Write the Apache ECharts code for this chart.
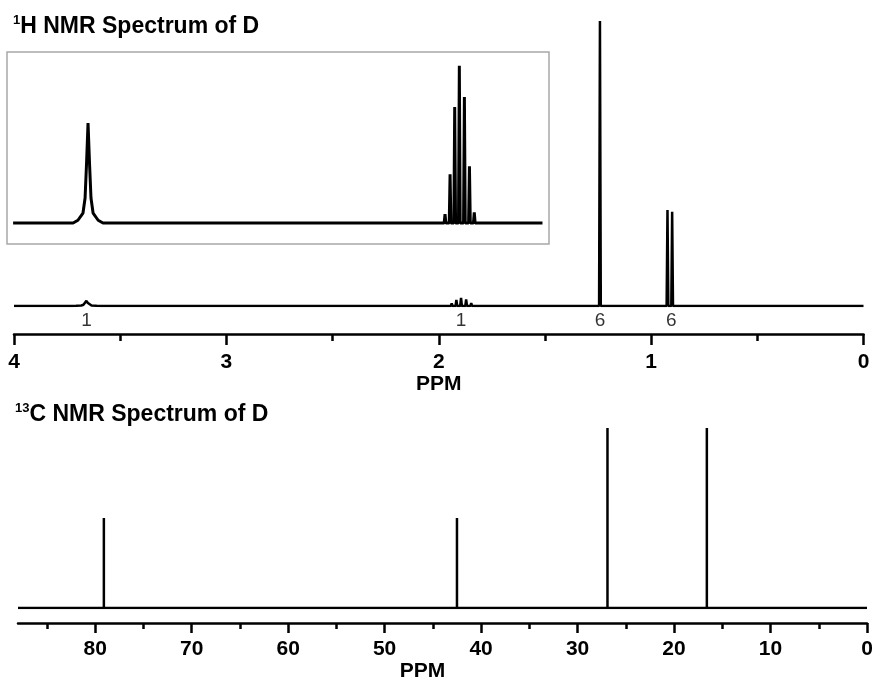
<!DOCTYPE html>
<html>
<head>
<meta charset="utf-8">
<title>NMR Spectra of D</title>
<script src="https://cdn.jsdelivr.net/npm/echarts@6/dist/echarts.min.js"></script>
<style>
  html, body { margin: 0; padding: 0; background: #fff; }
  #chart { width: 874px; height: 679px; }
</style>
</head>
<body>
<div id="chart"></div>
<script>
// ---- 1H spectrum, heights relative to the tallest line (= 100) ----
const hSpan = [4, 0];                 // ppm range of the main trace
const hInsetSpan = [4.015, 1.50];     // ppm range shown in the inset
const hLinePpm = [1.241, 0.923, 0.901];
const hLineHeights = [100, 33.7, 33.1];
const hMultPpm = [1.963, 1.939, 1.917, 1.895, 1.871, 1.847, 1.824];
const hMultHeights = [0.16, 0.88, 2.09, 2.83, 2.27, 1.02, 0.19];
// broad singlet near 3.66 ppm, profile
const hSingletPpm = [3.730, 3.707, 3.683, 3.673, 3.666, 3.659, 3.652, 3.645, 3.635, 3.611, 3.588];
const hSingletHeights = [0, 0.05, 0.18, 0.45, 1.08, 1.8, 1.08, 0.45, 0.18, 0.05, 0];
// integrals written under the peaks
const hIntegralPpm = [3.659, 1.895, 1.241, 0.905];
const hIntegrals = ['1', '1', '6', '6'];
const hMajorTicks = [0, 1, 2, 3, 4];
const hMinorTicks = [0.5, 1.5, 2.5, 3.5];

// ---- 13C spectrum ----
const cSpan = [88, 0];
const cPeakPpm = [79.1, 42.5, 26.9, 16.6];
const cPeakHeights = [50, 50, 100, 100];
const cMajorTicks = [0, 10, 20, 30, 40, 50, 60, 70, 80];
const cMinorTicks = [5, 15, 25, 35, 45, 55, 65, 75, 85];

const FONT = 'Liberation Sans, Arial, sans-serif';
const HW = 0.004; // half width of a sharp line, ppm

function hTrace(from, to) {
  let pts = [[from, 0], [to, 0]];
  hSingletPpm.forEach((p, i) => pts.push([p, hSingletHeights[i]]));
  hMultPpm.forEach((p, i) => pts.push([p + HW, 0], [p, hMultHeights[i]], [p - HW, 0]));
  hLinePpm.forEach((p, i) => pts.push([p + HW, 0], [p, hLineHeights[i]], [p - HW, 0]));
  pts = pts.filter(d => d[0] <= from && d[0] >= to);
  pts.sort((a, b) => b[0] - a[0]);
  return pts;
}

function cTrace() {
  const pts = [[cSpan[0], 0]];
  cPeakPpm.forEach((p, i) => pts.push([p, 0], [p, cPeakHeights[i]], [p, 0]));
  pts.push([cSpan[1], 0]);
  return pts;
}

function tickAxis(grid, min, max, ticks, len, offset, withLine, extra) {
  return Object.assign({
    type: 'value', gridIndex: grid, min: min, max: max, inverse: true,
    position: 'bottom', offset: offset,
    splitLine: { show: false },
    axisLine: { show: withLine, lineStyle: { color: '#000', width: 2.5 } },
    axisTick: { show: true, customValues: ticks, length: len, lineStyle: { color: '#000', width: 2.5 } },
    axisLabel: { show: false }
  }, extra || {});
}

const labelStyle = {
  fontFamily: FONT, fontWeight: 'bold', fontSize: 21, color: '#000'
};

function titleStyle() {
  return {
    fontFamily: FONT, fontWeight: 'bold', fontSize: 23, color: '#000', lineHeight: 26,
    rich: { s: { fontFamily: FONT, fontWeight: 'bold', fontSize: 13, verticalAlign: 'top', lineHeight: 16 } }
  };
}

const chart = echarts.init(document.getElementById('chart'));
chart.setOption({
  animation: false,
  backgroundColor: '#fff',
  title: [{
    text: '{s|1}H NMR Spectrum of D',
    left: 8, top: 9,
    textStyle: titleStyle()
  }, {
    text: '{s|13}C NMR Spectrum of D',
    left: 10, top: 397,
    textStyle: titleStyle()
  }],
  grid: [
    { left: 14, right: 10.5, top: 21, bottom: 373, outerBoundsMode: 'none' },
    { left: 7, top: 52, width: 542, height: 192, show: true, borderColor: '#a8a8a8', borderWidth: 1.5, outerBoundsMode: 'none' },
    { left: 18, right: 7, top: 428, bottom: 71, outerBoundsMode: 'none' }
  ],
  xAxis: [
    { type: 'value', gridIndex: 0, min: 0, max: 4, inverse: true, show: false },
    tickAxis(0, 0, 4, hMajorTicks, 11, 28, true, {
      axisLabel: { show: true, customValues: hMajorTicks, margin: 18, ...labelStyle },
      name: 'PPM', nameLocation: 'middle', nameGap: 36,
      nameTextStyle: labelStyle
    }),
    tickAxis(0, 0, 4, hMinorTicks, 7, 28, false),
    { type: 'value', gridIndex: 1, min: 1.469, max: 4.044, inverse: true, show: false },
    { type: 'value', gridIndex: 2, min: 0, max: 88, inverse: true, show: false },
    tickAxis(2, 0, 88, cMajorTicks, 10, 15, true, {
      axisLabel: { show: true, customValues: cMajorTicks, margin: 16, ...labelStyle },
      name: 'PPM', nameLocation: 'middle', nameGap: 33,
      nameTextStyle: Object.assign({ padding: [0, 40, 0, 0] }, labelStyle)
    }),
    tickAxis(2, 0, 88, cMinorTicks, 6, 15, false)
  ],
  yAxis: [
    { type: 'value', gridIndex: 0, min: 0, max: 100, show: false },
    { type: 'value', gridIndex: 1, min: -0.378, max: 3.08, show: false },
    { type: 'value', gridIndex: 2, min: 0, max: 100, show: false }
  ],
  series: [{
    name: '1H', type: 'line', xAxisIndex: 0, yAxisIndex: 0,
    data: hTrace(hSpan[0], hSpan[1]), showSymbol: false,
    lineStyle: { color: '#000', width: 2.5 }
  }, {
    name: '1H inset', type: 'line', xAxisIndex: 3, yAxisIndex: 1,
    data: hTrace(hInsetSpan[0], hInsetSpan[1]), showSymbol: false,
    lineStyle: { color: '#000', width: 3 }
  }, {
    name: 'integrals', type: 'scatter', xAxisIndex: 0, yAxisIndex: 0,
    symbolSize: 0,
    data: hIntegralPpm.map((p, i) => ({ value: [p, 0], name: hIntegrals[i] })),
    label: {
      show: true, position: 'bottom', distance: 5, formatter: '{b}',
      fontFamily: FONT, fontSize: 19, color: '#000'
    }
  }, {
    name: '13C', type: 'line', xAxisIndex: 4, yAxisIndex: 2,
    data: cTrace(), showSymbol: false,
    lineStyle: { color: '#000', width: 2.5 }
  }]
});
</script>
</body>
</html>
